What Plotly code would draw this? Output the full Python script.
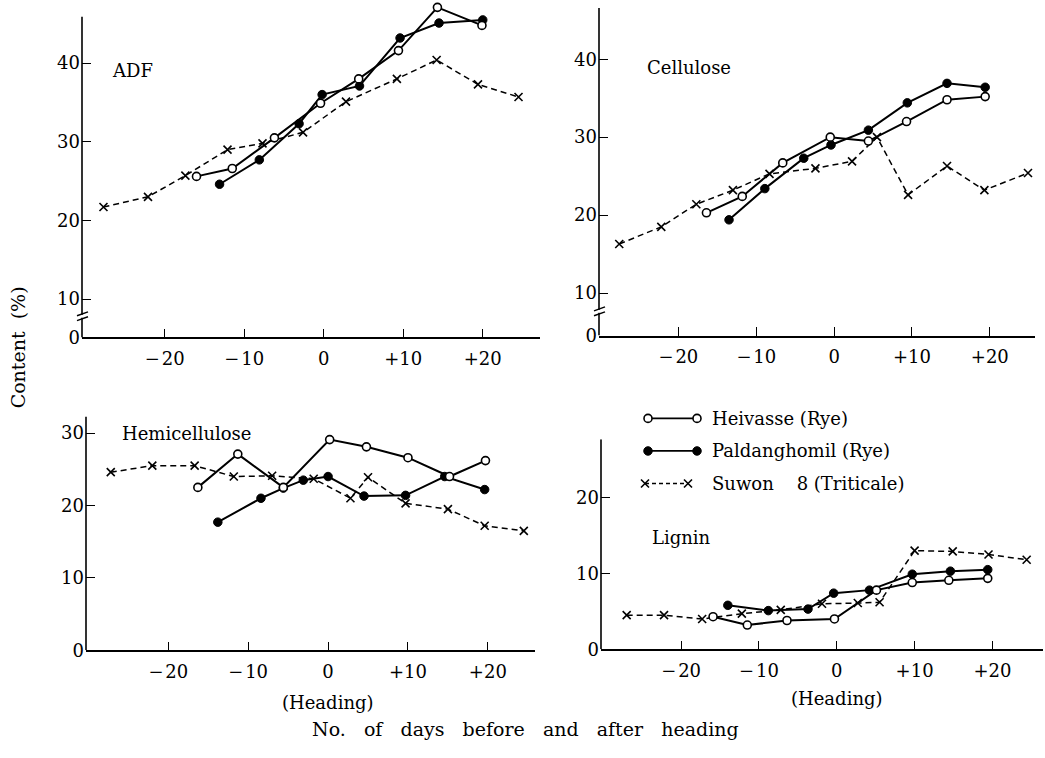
import plotly.graph_objects as go

W, H = 1045, 758
FONT = "DejaVu Serif"
FS = 18

# ---------------- data (days relative to heading, content %) ----------------
adf_hei_x = [-16, -11.5, -6.2, -0.4, 4.4, 9.4, 14.3, 19.9]
adf_hei_y = [25.6, 26.6, 30.5, 34.9, 38.0, 41.6, 47.1, 44.8]
adf_pal_x = [-13.1, -8.1, -3.1, -0.2, 4.5, 9.6, 14.5, 20.0]
adf_pal_y = [24.6, 27.7, 32.3, 36.0, 37.1, 43.2, 45.1, 45.5]
adf_suw_x = [-27.7, -22.1, -17.4, -12.1, -7.7, -2.6, 2.8, 9.2, 14.2, 19.4, 24.5]
adf_suw_y = [21.7, 23.0, 25.7, 29.0, 29.8, 31.2, 35.1, 38.0, 40.4, 37.3, 35.7]

cel_hei_x = [-16.4, -11.8, -6.6, -0.5, 4.4, 9.3, 14.5, 19.4]
cel_hei_y = [20.3, 22.4, 26.7, 30.0, 29.5, 32.0, 34.8, 35.2]
cel_pal_x = [-13.5, -8.9, -3.9, -0.4, 4.4, 9.4, 14.5, 19.4]
cel_pal_y = [19.4, 23.4, 27.3, 29.0, 30.9, 34.4, 36.9, 36.4]
cel_suw_x = [-27.6, -22.2, -17.7, -13.0, -8.3, -2.4, 2.3, 5.5, 9.5, 14.5, 19.3, 24.9]
cel_suw_y = [16.3, 18.5, 21.4, 23.2, 25.3, 26.0, 26.9, 30.0, 22.6, 26.3, 23.2, 25.4]

hem_hei_x = [-16.3, -11.3, -5.6, 0.2, 4.8, 10.0, 15.2, 19.7]
hem_hei_y = [22.5, 27.1, 22.5, 29.1, 28.1, 26.6, 24.0, 26.2]
hem_pal_x = [-13.8, -8.4, -5.6, -3.1, 0.0, 4.5, 9.7, 14.6, 19.6]
hem_pal_y = [17.7, 21.0, 22.4, 23.5, 24.0, 21.3, 21.4, 24.0, 22.2]
hem_suw_x = [-27.2, -22.0, -16.7, -11.8, -7.0, -1.8, 2.8, 5.0, 9.7, 15.0, 19.6, 24.5]
hem_suw_y = [24.6, 25.5, 25.5, 24.0, 24.1, 23.7, 21.0, 23.9, 20.3, 19.5, 17.2, 16.5]

lig_hei_x = [-15.9, -11.5, -6.4, -0.3, 5.1, 9.7, 14.4, 19.4]
lig_hei_y = [4.3, 3.2, 3.8, 4.0, 7.8, 8.8, 9.1, 9.35]
lig_pal_x = [-14.0, -8.8, -3.7, -0.4, 4.2, 9.7, 14.6, 19.4]
lig_pal_y = [5.8, 5.1, 5.3, 7.4, 7.8, 9.9, 10.3, 10.5]
lig_suw_x = [-27.0, -22.2, -17.3, -12.2, -7.2, -1.9, 2.7, 5.5, 10.0, 14.9, 19.5, 24.4]
lig_suw_y = [4.5, 4.5, 4.0, 4.7, 5.2, 6.0, 6.1, 6.2, 13.0, 12.9, 12.5, 11.8]

panel_names = ["ADF", "Cellulose", "Hemicellulose", "Lignin"]
series_names = ["Heivasse (Rye)", "Paldanghomil (Rye)", "Suwon\u00a0\u00a0\u00a0 8 (Triticale)"]

x_tickvals = [-20, -10, 0, 10, 20]
x_ticktext = ["\u2212\u200a20", "\u2212\u200a10", "0", "+10", "+20"]
y_ticktext_top = ["0", "10", "20", "30", "40"]
y_tickvals_hem = [0, 10, 20, 30]
y_tickvals_lig = [0, 10, 20]

# ---------------- layout geometry (pixels) ----------------
def px_x(v):
    return v / W

def px_y(v):
    return 1 - v / H

# (left, right, top, bottom) in px; x range; y range; visible top of y-axis line
panels = [
    dict(dom=(82, 540, 4, 342), xr=[-30.4, 27.2], yr=[5.11, 47.53], ytop=45.9),
    dict(dom=(599, 1035, 8, 340), xr=[-30.2, 25.8], yr=[4.56, 46.58], ytop=46.58),
    dict(dom=(86, 535, 422, 659), xr=[-30.3, 25.9], yr=[0, 32.3], ytop=32.3),
    dict(dom=(601, 1043, 445, 658), xr=[-30.3, 26.5], yr=[0, 27.7], ytop=27.7),
]

data = [
    (adf_hei_x, adf_hei_y, adf_pal_x, adf_pal_y, adf_suw_x, adf_suw_y),
    (cel_hei_x, cel_hei_y, cel_pal_x, cel_pal_y, cel_suw_x, cel_suw_y),
    (hem_hei_x, hem_hei_y, hem_pal_x, hem_pal_y, hem_suw_x, hem_suw_y),
    (lig_hei_x, lig_hei_y, lig_pal_x, lig_pal_y, lig_suw_x, lig_suw_y),
]

solid = dict(color="black", width=2)
dashed = dict(color="black", width=1.5, dash="6px,4px")
m_open = dict(symbol="circle", size=8, color="white", line=dict(color="black", width=1.6))
m_fill = dict(symbol="circle", size=8.5, color="black", line=dict(color="black", width=1))
m_x = dict(symbol="x-thin", size=8, color="black", line=dict(color="black", width=1.6))

fig = go.Figure()
layout = dict(
    width=W, height=H, autosize=False,
    margin=dict(l=0, r=0, t=0, b=0),
    paper_bgcolor="white", plot_bgcolor="white",
    showlegend=False,
    font=dict(family=FONT, size=FS, color="black"),
)

shapes = []
for i, (p, d) in enumerate(zip(panels, data)):
    n = i + 1
    xa = "x" if n == 1 else f"x{n}"
    ya = "y" if n == 1 else f"y{n}"
    hx, hy, pxs, pys, sx, sy = d
    fig.add_trace(go.Scatter(x=sx, y=sy, mode="lines+markers", line=dashed, marker=m_x,
                             xaxis=xa, yaxis=ya, cliponaxis=False, name=series_names[2]))
    fig.add_trace(go.Scatter(x=pxs, y=pys, mode="lines+markers", line=solid, marker=m_fill,
                             xaxis=xa, yaxis=ya, cliponaxis=False, name=series_names[1]))
    fig.add_trace(go.Scatter(x=hx, y=hy, mode="lines+markers", line=solid, marker=m_open,
                             xaxis=xa, yaxis=ya, cliponaxis=False, name=series_names[0]))
    l, r, t, b = p["dom"]
    if n <= 2:
        ytv = [p["yr"][0], 10, 20, 30, 40]
        ytt = y_ticktext_top
    elif n == 3:
        ytv = y_tickvals_hem
        ytt = [str(v) for v in y_tickvals_hem]
    else:
        ytv = y_tickvals_lig
        ytt = [str(v) for v in y_tickvals_lig]
    xkey = "xaxis" if n == 1 else f"xaxis{n}"
    ykey = "yaxis" if n == 1 else f"yaxis{n}"
    layout[xkey] = dict(
        domain=[px_x(l), px_x(r)], range=p["xr"], anchor=ya,
        showline=True, linecolor="black", linewidth=1.6,
        ticks="inside", ticklen=9, tickwidth=1.4, tickcolor="black",
        tickvals=x_tickvals, ticktext=x_ticktext, showgrid=False, zeroline=False,
        tickfont=dict(family=FONT, size=FS), ticklabelstandoff=4,
    )
    layout[ykey] = dict(
        domain=[px_y(b), px_y(t)], range=p["yr"], anchor=xa,
        showline=False,
        ticks="inside", ticklen=9, tickwidth=1.4, tickcolor="black",
        tickvals=ytv, ticktext=ytt, showgrid=False, zeroline=False,
        tickfont=dict(family=FONT, size=FS), ticklabelstandoff=1,
    )
    # y-axis line (drawn as a shape so it can stop below the top of the data area)
    shapes.append(dict(type="line", xref=f"{xa} domain", yref=ya, x0=0, x1=0,
                       y0=p["yr"][0], y1=p["ytop"], line=dict(color="black", width=1.6),
                       layer="above"))

# legend drawn in its own small axis system
leg_x = [8, 57]
leg_x_suw = [5, 48]
leg_rows = [76, 43, 10]
fig.add_trace(go.Scatter(x=leg_x, y=[leg_rows[0]] * 2, mode="lines+markers", line=dict(color="black", width=1.8),
                         marker=m_open, xaxis="x5", yaxis="y5", cliponaxis=False))
fig.add_trace(go.Scatter(x=leg_x, y=[leg_rows[1]] * 2, mode="lines+markers", line=dict(color="black", width=1.8),
                         marker=m_fill, xaxis="x5", yaxis="y5", cliponaxis=False))
fig.add_trace(go.Scatter(x=leg_x_suw, y=[leg_rows[2]] * 2, mode="lines+markers", line=dict(color="black", width=1.5, dash="4px,3px"),
                         marker=m_x, xaxis="x5", yaxis="y5", cliponaxis=False))
layout["xaxis5"] = dict(domain=[px_x(640), px_x(720)], range=[0, 80], visible=False, anchor="y5")
layout["yaxis5"] = dict(domain=[px_y(500), px_y(410)], range=[0, 90], visible=False, anchor="x5")

annotations = []
for name, row in zip(series_names, leg_rows):
    annotations.append(dict(x=70, y=row, xref="x5", yref="y5", text=name, showarrow=False,
                            xanchor="left", yanchor="middle", font=dict(family=FONT, size=FS)))

title_pos = [(110, 71), (645, 68), (120, 439), (650, 545)]
for name, (tx, ty) in zip(panel_names, title_pos):
    annotations.append(dict(x=px_x(tx), y=px_y(ty), xref="paper", yref="paper", text=name,
                            showarrow=False, xanchor="left", yanchor="middle",
                            font=dict(family=FONT, size=FS)))

annotations.append(dict(x=px_x(18), y=px_y(352), xref="paper", yref="paper", text="Content\u00a0 (%)",
                        showarrow=False, textangle=-90, xanchor="center", yanchor="middle",
                        font=dict(family=FONT, size=19)))
annotations.append(dict(x=px_x(525), y=px_y(739), xref="paper", yref="paper",
                        text="No.\u00a0\u00a0 of\u00a0\u00a0 days\u00a0\u00a0 before\u00a0\u00a0 and\u00a0\u00a0 after\u00a0\u00a0 heading",
                        showarrow=False, xanchor="center", yanchor="middle", font=dict(family=FONT, size=19)))
annotations.append(dict(x=0, y=px_y(712), xref="x3", yref="paper", text="(Heading)",
                        showarrow=False, xanchor="center", yanchor="middle", font=dict(family=FONT, size=FS)))
annotations.append(dict(x=0, y=px_y(708), xref="x4", yref="paper", text="(Heading)",
                        showarrow=False, xanchor="center", yanchor="middle", font=dict(family=FONT, size=FS)))
layout["annotations"] = annotations

# axis break marks on the two upper panels
for n, (ybrk_hi, ybrk_lo) in zip([1, 2], [(318, 323), (313, 318)]):
    l = panels[n - 1]["dom"][0]
    shapes.append(dict(type="rect", xref="paper", yref="paper",
                       x0=px_x(l - 3), x1=px_x(l + 3), y0=px_y(ybrk_lo - 1), y1=px_y(ybrk_hi + 1),
                       line=dict(width=0), fillcolor="white", layer="above"))
    for yy in (ybrk_hi, ybrk_lo):
        shapes.append(dict(type="line", xref="paper", yref="paper",
                           x0=px_x(l - 5), x1=px_x(l + 6), y0=px_y(yy + 2), y1=px_y(yy - 2),
                           line=dict(color="black", width=1.4), layer="above"))
layout["shapes"] = shapes

fig.update_layout(**layout)

post = "document.documentElement.style.margin='0';document.body.style.margin='0';"
fig.write_html("out.html", post_script=post, config={"displayModeBar": False})
